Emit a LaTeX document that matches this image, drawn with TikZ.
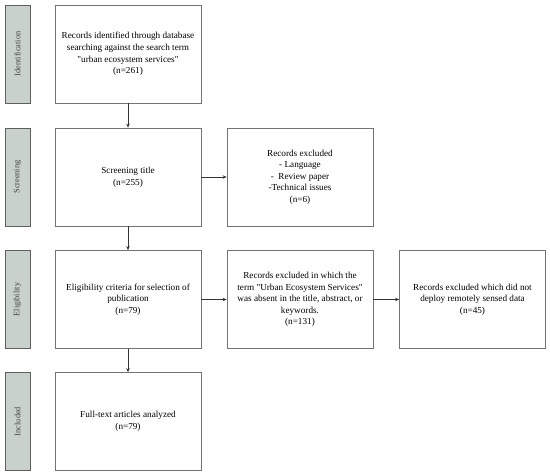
\documentclass[tikz,border=0pt]{standalone}
\usepackage{fontspec}
\setmainfont{Liberation Serif}
\usetikzlibrary{arrows.meta,positioning}
\definecolor{stagefill}{RGB}{200,210,203}
\definecolor{stageline}{RGB}{95,95,95}
\definecolor{boxline}{RGB}{115,115,115}

\begin{document}
\begin{tikzpicture}[x=1pt, y=-1pt,
    stage/.style={rotate=90, draw=stageline, line width=1pt, fill=stagefill, minimum width=98pt, minimum height=25pt, inner sep=0pt, text=black!75, font=\fontsize{8.3}{10}\selectfont},
    record/.style={draw=boxline, line width=0.8pt, minimum width=146pt, minimum height=98pt, inner sep=2pt, align=center, font=\fontsize{9.2}{11.6}\selectfont},
    flow/.style={-{Stealth[length=4pt,width=3.5pt]}, draw=black!80, line width=0.6pt}]
                        \useasboundingbox (0,0) rectangle (550,475);
                        \node[stage] (sident) at (17.5, 54) {Identification};
                        \node[stage] (sscreen) at (17.5, 177) {Screening};
                        \node[stage] (selig) at (17.5, 299.5) {Eligibility};
                        \node[stage] (sincl) at (17.5, 421.5) {Included};
                        \node[record] (ident) at (128, 54) {Records identified through database\\searching against the search term\\\textquotedbl urban ecosystem services\textquotedbl\\(n=261)};
                        \node[record] (screen) at (128, 177) {Screening title\\(n=255)};
                        \node[record] (excl1) at (300, 177) {Records excluded\\- Language\\-\ \ Review paper\\-Technical issues\\(n=6)};
                        \node[record] (elig) at (128, 299.5) {Eligibility criteria for selection of\\publication\\(n=79)};
                        \node[record] (excl2) at (300, 299.5) {Records excluded in which the\\term \textquotedbl Urban Ecosystem Services\textquotedbl\\was absent in the title, abstract, or\\keywords.\\(n=131)};
                        \node[record] (excl3) at (472.5, 299.5) {Records excluded which did not\\deploy remotely sensed data\\(n=45)};
                        \node[record] (incl) at (128, 421.5) {Full-text articles analyzed\\(n=79)};
                        \draw[flow] (ident) -- (screen);
                        \draw[flow] (screen) -- (excl1);
                        \draw[flow] (screen) -- (elig);
                        \draw[flow] (elig) -- (excl2);
                        \draw[flow] (excl2) -- (excl3);
                        \draw[flow] (elig) -- (incl);
                    \end{tikzpicture}
\end{document}
